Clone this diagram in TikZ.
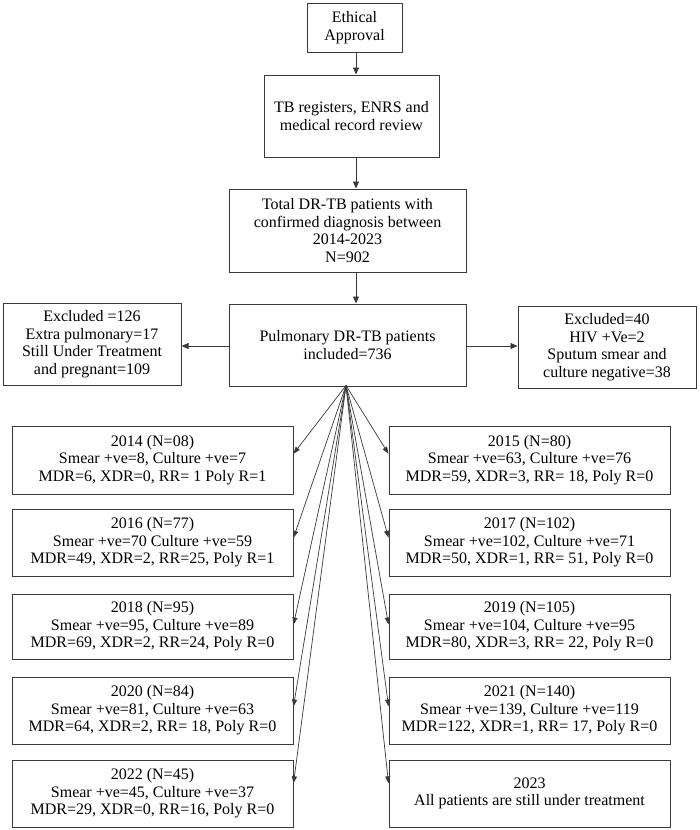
\documentclass[tikz,border=0pt]{standalone}
\usepackage{fontspec}
\setmainfont{Liberation Serif}
\usetikzlibrary{arrows.meta,calc}
\definecolor{edge}{HTML}{3A3A3A}
\begin{document}
\begin{tikzpicture}[x=1pt,y=-1pt,
  box/.style={draw=edge,line width=1pt,inner sep=0pt,align=center,
    font=\fontsize{16}{17.5}\selectfont},
  yearbox/.style={box,minimum width=281pt},
  conn/.style={draw=edge,line width=0.9pt,-{Triangle[length=7pt,width=6pt]}},
  fan/.style={draw=edge,line width=0.7pt,-{Triangle[length=7pt,width=5pt]}}]
\fill[white] (0,0) rectangle (699,830);
\useasboundingbox (0,0) rectangle (699,830);

\node[box,minimum width=95pt,minimum height=49pt] (eth) at (354.5,27.5) {Ethical\\Approval};
\node[box,minimum width=175pt,minimum height=82pt] (tb) at (351.5,116) {TB registers, ENRS and\\medical record review};
\node[box,minimum width=237pt,minimum height=83pt] (tot) at (347.5,230.5) {Total DR-TB patients with\\confirmed diagnosis between\\2014-2023\\N=902};
\node[box,minimum width=237pt,minimum height=82pt] (pul) at (347.5,345) {Pulmonary DR-TB patients\\included=736};
\node[box,minimum width=178pt,minimum height=82pt] (exl) at (92,344) {Excluded =126\\Extra pulmonary=17\\Still Under Treatment\\and pregnant=109};
\node[box,minimum width=178pt,minimum height=82pt] (exr) at (607,347) {Excluded=40\\HIV +Ve=2\\Sputum smear and\\culture negative=38};

\node[yearbox,minimum height=68pt] (y14) at (152.5,460) {2014 (N=08)\\Smear +ve=8, Culture +ve=7\\MDR=6, XDR=0, RR= 1 Poly R=1};
\node[yearbox,minimum height=68pt] (y15) at (529.5,460) {2015 (N=80)\\Smear +ve=63, Culture +ve=76\\MDR=59, XDR=3, RR= 18, Poly R=0};
\node[yearbox,minimum height=67pt] (y16) at (152.5,542.5) {2016 (N=77)\\Smear +ve=70 Culture +ve=59\\MDR=49, XDR=2, RR=25, Poly R=1};
\node[yearbox,minimum height=67pt] (y17) at (529.5,542.5) {2017 (N=102)\\Smear +ve=102, Culture +ve=71\\MDR=50, XDR=1, RR= 51, Poly R=0};
\node[yearbox,minimum height=65pt] (y18) at (152.5,626.5) {2018 (N=95)\\Smear +ve=95, Culture +ve=89\\MDR=69, XDR=2, RR=24, Poly R=0};
\node[yearbox,minimum height=65pt] (y19) at (529.5,626.5) {2019 (N=105)\\Smear +ve=104, Culture +ve=95\\MDR=80, XDR=3, RR= 22, Poly R=0};
\node[yearbox,minimum height=67pt] (y20) at (152.5,710.5) {2020 (N=84)\\Smear +ve=81, Culture +ve=63\\MDR=64, XDR=2, RR= 18, Poly R=0};
\node[yearbox,minimum height=67pt] (y21) at (529.5,710.5) {2021 (N=140)\\Smear +ve=139, Culture +ve=119\\MDR=122, XDR=1, RR= 17, Poly R=0};
\node[yearbox,minimum height=67pt] (y22) at (152.5,793.5) {2022 (N=45)\\Smear +ve=45, Culture +ve=37\\MDR=29, XDR=0, RR=16, Poly R=0};
\node[yearbox,minimum height=67pt] (y23) at (529.5,793.5) {2023\\All patients are still under treatment};

\draw[conn] ([xshift=1.5pt]eth.south) -- ([xshift=1.5pt]eth.south |- tb.north);
\draw[conn] ([xshift=4.5pt]tb.south) -- ([xshift=4.5pt]tb.south |- tot.north);
\draw[conn] ([xshift=8.5pt]tot.south) -- ([xshift=8.5pt]tot.south |- pul.north);
\draw[conn] ([yshift=-1pt]pul.west) -- ([yshift=-1pt]pul.west -| exl.east);
\draw[conn] ([yshift=-1pt]pul.east) -- ([yshift=-1pt]pul.east -| exr.west);

\coordinate (apex) at ([xshift=-1.5pt,yshift=1pt]pul.south);
\foreach \n/\f in {y14/0.41,y16/0.43,y18/0.47,y20/0.44,y22/0.35}{
  \draw[fan] (apex) -- ($(\n.north east)!\f!(\n.south east)$);
}
\foreach \n/\f in {y15/0.41,y17/0.43,y19/0.47,y21/0.44,y23/0.35}{
  \draw[fan] (apex) -- ($(\n.north west)!\f!(\n.south west)$);
}
\end{tikzpicture}
\end{document}
